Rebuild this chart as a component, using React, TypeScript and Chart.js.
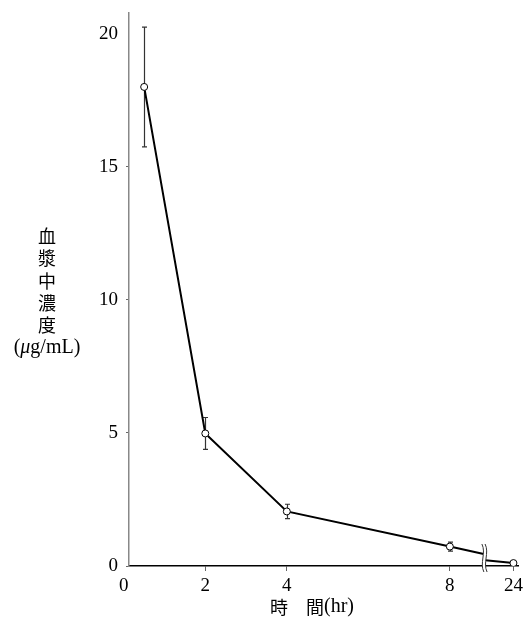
import { useEffect, useRef } from 'react';
import { Chart, registerables } from 'chart.js';

Chart.register(...registerables);

// ---- data ----
const timesHr = [0.5, 2, 4, 8, 24];
const concMean = [18.0, 4.98, 2.05, 0.73, 0.11];
const concSD = [2.25, 0.6, 0.27, 0.17, 0];
const xTickValues = [0, 2, 4, 8, 24];
const xTickLabels = ['0', '2', '4', '8', '24'];
const yTickValues = [0, 5, 10, 15, 20];
const yTitleChars = ['血', '漿', '中', '濃', '度'];
const xTitleParts = ['時', '間', '(hr)'];
// line path around the axis break
const breakLeftY = 0.45;
const breakRightY = 0.22;

// ---- broken time axis ----
const BREAK_POS = 8.85;
const POS_24 = 9.56;
const axisPos = (t: number) => (t <= 8 ? t : POS_24);

const SERIF = '"Liberation Serif", "Times New Roman", serif';
const CJK = '"Noto Sans CJK JP", "Noto Sans CJK SC", sans-serif';

export default function App() {
  const ref = useRef<HTMLCanvasElement | null>(null);

  useEffect(() => {
    document.body.style.margin = '0';
    const canvas = ref.current;
    if (!canvas) return;

    const pts = timesHr.map((t, i) => ({ x: axisPos(t), y: concMean[i] }));
    const before = pts.filter((_, i) => timesHr[i] <= 8);
    const after = pts.filter((_, i) => timesHr[i] > 8);

    const errorBars = {
      id: 'errorBars',
      beforeDatasetsDraw(chart: any) {
        const { ctx, scales } = chart;
        ctx.save();
        ctx.strokeStyle = '#333';
        ctx.lineWidth = 1.2;
        timesHr.forEach((t, i) => {
          if (!concSD[i]) return;
          const px = Math.round(scales.x.getPixelForValue(axisPos(t))) + 0.5;
          const top = scales.y.getPixelForValue(concMean[i] + concSD[i]);
          const bot = scales.y.getPixelForValue(concMean[i] - concSD[i]);
          ctx.beginPath();
          ctx.moveTo(px, top);
          ctx.lineTo(px, bot);
          ctx.moveTo(px - 2.5, top);
          ctx.lineTo(px + 2.5, top);
          ctx.moveTo(px - 2.5, bot);
          ctx.lineTo(px + 2.5, bot);
          ctx.stroke();
        });
        ctx.restore();
      },
    };

    const breakMark = {
      id: 'breakMark',
      afterDatasetsDraw(chart: any) {
        const { ctx, scales, chartArea } = chart;
        const px = scales.x.getPixelForValue(BREAK_POS);
        const top = chartArea.bottom - 22;
        const bot = chartArea.bottom + 6;
        const path = (dx: number) => {
          ctx.moveTo(px + dx - 1, top);
          ctx.bezierCurveTo(px + dx + 3.5, top + 9, px + dx - 3.5, bot - 9, px + dx + 1, bot);
        };
        ctx.save();
        ctx.beginPath();
        path(-1.6);
        ctx.lineTo(px + 1.6 + 1, bot);
        ctx.bezierCurveTo(px + 1.6 - 3.5, bot - 9, px + 1.6 + 3.5, top + 9, px + 1.6 - 1, top);
        ctx.closePath();
        ctx.fillStyle = '#fff';
        ctx.fill();
        ctx.strokeStyle = '#333';
        ctx.lineWidth = 1;
        ctx.beginPath();
        path(-1.6);
        ctx.stroke();
        ctx.beginPath();
        path(1.6);
        ctx.stroke();
        ctx.restore();
      },
    };

    const titles = {
      id: 'titles',
      afterDraw(chart: any) {
        const { ctx } = chart;
        ctx.save();
        ctx.fillStyle = '#000';
        ctx.textBaseline = 'middle';
        // y title: vertical characters + unit
        const cx = 47;
        const y0 = 236;
        const step = 22.4;
        ctx.textAlign = 'center';
        ctx.font = `18px ${CJK}`;
        yTitleChars.forEach((c, i) => ctx.fillText(c, cx, y0 + i * step));
        const uy = y0 + yTitleChars.length * step;
        const parts: [string, string][] = [
          ['(', `20px ${SERIF}`],
          ['μ', `italic 20px ${SERIF}`],
          ['g/mL)', `20px ${SERIF}`],
        ];
        let total = 0;
        parts.forEach(([s, f]) => {
          ctx.font = f;
          total += ctx.measureText(s).width;
        });
        let x0 = cx - total / 2;
        ctx.textAlign = 'left';
        parts.forEach(([s, f]) => {
          ctx.font = f;
          ctx.fillText(s, x0, uy);
          x0 += ctx.measureText(s).width;
        });
        // x title
        const ty = 607;
        let xx = 270;
        ctx.font = `18px ${CJK}`;
        ctx.fillText(xTitleParts[0], xx, ty);
        xx += 18 * 2;
        ctx.fillText(xTitleParts[1], xx, ty);
        xx += 18;
        ctx.font = `20px ${SERIF}`;
        ctx.fillText(xTitleParts[2], xx, ty);
        ctx.restore();
      },
    };

    const chart = new Chart(canvas, {
      type: 'scatter',
      data: {
        datasets: [
          {
            data: [...before, { x: BREAK_POS - 0.02, y: breakLeftY }],
            showLine: true,
            borderColor: '#000',
            borderWidth: 2,
            pointRadius: 0,
            order: 2,
          },
          {
            data: [{ x: BREAK_POS + 0.02, y: breakRightY }, ...after],
            showLine: true,
            borderColor: '#000',
            borderWidth: 2,
            pointRadius: 0,
            order: 2,
          },
          {
            data: pts,
            showLine: false,
            pointRadius: 3.5,
            pointBackgroundColor: '#fff',
            pointBorderColor: '#000',
            pointBorderWidth: 1,
            order: 1,
          },
        ],
      },
      options: {
        responsive: false,
        animation: false,
        layout: { padding: { top: 10, right: 5, left: 0, bottom: 0 } },
        plugins: {
          legend: { display: false },
          tooltip: { enabled: false },
        },
        scales: {
          x: {
            type: 'linear',
            min: 0.128,
            max: 9.69,
            afterBuildTicks: (s: any) => {
              s.ticks = xTickValues.map((t) => ({ value: axisPos(t) }));
            },
            afterFit: (s: any) => {
              s.height = 52;
            },
            ticks: {
              autoSkip: false,
              maxRotation: 0,
              padding: 4,
              color: '#000',
              font: { family: SERIF, size: 19 },
              callback: (_v: any, i: number) => xTickLabels[i],
            },
            grid: {
              drawOnChartArea: false,
              drawTicks: true,
              tickLength: 5,
              tickColor: (c: any) => (c.tick && c.tick.value === 0 ? 'rgba(0,0,0,0)' : '#666'),
              tickWidth: 1,
            },
            border: { display: true, color: '#000', width: 1.5 },
          },
          y: {
            type: 'linear',
            min: 0,
            max: 20.8,
            afterBuildTicks: (s: any) => {
              s.ticks = yTickValues.map((v) => ({ value: v }));
            },
            afterFit: (s: any) => {
              s.width = 129;
            },
            ticks: {
              padding: 1,
              color: '#000',
              font: { family: SERIF, size: 19 },
              callback: (v: any) => String(v),
            },
            grid: {
              drawOnChartArea: false,
              drawTicks: true,
              tickLength: 10,
              tickBorderDash: [0, 7, 3, 30],
              tickColor: (c: any) => (c.tick && c.tick.value === 20 ? 'rgba(0,0,0,0)' : '#666'),
              tickWidth: 1,
            },
            border: { display: true, color: '#888', width: 1.5 },
          },
        },
      },
      plugins: [errorBars, breakMark, titles],
    } as any);

    return () => chart.destroy();
  }, []);

  return (
    <canvas
      ref={ref}
      width={527}
      height={618}
      style={{ display: 'block', width: 527, height: 618 }}
    />
  );
}
